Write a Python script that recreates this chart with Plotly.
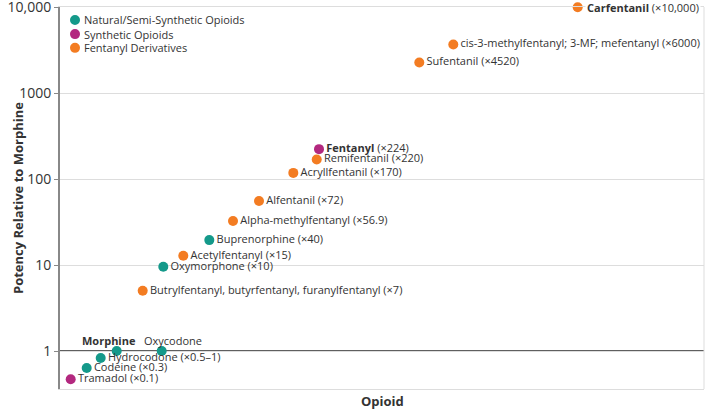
import plotly.graph_objects as go

# ---------------- data ----------------
categories = ["Natural/Semi-Synthetic Opioids", "Synthetic Opioids", "Fentanyl Derivatives"]
category_colors = ["#14998a", "#b3287f", "#f37c22"]

# Natural / semi-synthetic
nat_labels = ["Hydrocodone (×0.5–1)", "Codeine (×0.3)", "Buprenorphine (×40)", "Oxymorphone (×10)", "", ""]
nat_x = [40.7, 26.7, 149.3, 103.3, 56.7, 101.7]
nat_y = [0.83, 0.634, 19.5, 9.55, 1.0, 1.0]

# Synthetic
syn_labels = ["Tramadol (×0.1)", "<b>Fentanyl</b> (×224)"]
syn_x = [10.7, 259.0]
syn_y = [0.469, 223.0]

# Fentanyl derivatives
fen_labels = ["Butrylfentanyl, butyrfentanyl, furanylfentanyl (×7)", "Acetylfentanyl (×15)",
              "Alpha-methylfentanyl (×56.9)", "Alfentanil (×72)", "Acryllfentanil (×170)",
              "Remifentanil (×220)", "Sufentanil (×4520)",
              "cis-3-methylfentanyl; 3-MF; mefentanyl (×6000)", "<b>Carfentanil</b> (×10,000)"]
fen_x = [82.7, 123.3, 173.0, 199.0, 233.3, 256.7, 359.3, 393.3, 517.7]
fen_y = [5.02, 12.8, 32.5, 55.5, 118.0, 169.0, 2275.0, 3680.0, 10000.0]

# labels placed above points
above_labels = ["<b>Morphine</b>", "Oxycodone"]
above_x = [56.7, 101.7]
above_y = [1.0, 1.0]

y_tickvals = [1, 10, 100, 1000, 10000]
y_ticktext = ["1", "10", "100", "1000", "10,000"]
y_title = "Potency Relative to Morphine"
x_title = "Opioid"

# ---------------- figure ----------------
FONT = "Open Sans"
TXT = "#333333"
LBL = dict(family=FONT, size=11, color=TXT)

# the top-most label sits on the frame line and gets a white backing (annotation)
fen_trace_labels = fen_labels[:-1] + [""]

fig = go.Figure()
series = [(nat_x, nat_y, nat_labels), (syn_x, syn_y, syn_labels), (fen_x, fen_y, fen_trace_labels)]
for (xs, ys, labs), name, col in zip(series, categories, category_colors):
    fig.add_trace(go.Scatter(
        x=xs, y=ys, text=labs, name=name, mode="markers+text",
        textposition="middle right",
        textfont=LBL,
        marker=dict(size=10, color=col, line=dict(width=0)),
        cliponaxis=False, showlegend=False,
    ))

annotations = []
annotations.append(dict(x=fen_x[-1], y=4.0, xref="x", yref="y", text=fen_labels[-1],
                        showarrow=False, xanchor="left", yanchor="middle", xshift=7,
                        bgcolor="white", borderpad=1, font=LBL))
# Morphine / Oxycodone labels
annotations.append(dict(x=above_x[0], y=0, xref="x", yref="y", text=above_labels[0],
                        showarrow=False, xanchor="right", yanchor="middle", xshift=21, yshift=11,
                        font=LBL))
annotations.append(dict(x=above_x[1], y=0, xref="x", yref="y", text=above_labels[1],
                        showarrow=False, xanchor="left", yanchor="middle", xshift=-20, yshift=11,
                        font=LBL))

# manual legend
shapes = []
leg_y = [0.966, 0.929, 0.893]
for name, col, ly in zip(categories, category_colors, leg_y):
    shapes.append(dict(type="circle", xref="paper", yref="paper", xsizemode="pixel", ysizemode="pixel",
                       xanchor=0.0233, yanchor=ly, x0=-5, x1=5, y0=-5, y1=5,
                       fillcolor=col, line=dict(width=0)))
    annotations.append(dict(x=0.0233, y=ly, xref="paper", yref="paper", text=name, showarrow=False,
                            xanchor="left", yanchor="middle", xshift=7, font=LBL))

# axis titles
annotations.append(dict(x=0, y=0.5, xref="paper", yref="paper", text="<b>" + y_title + "</b>",
                        textangle=-90, showarrow=False, xanchor="center", yanchor="middle", xshift=-42,
                        font=dict(family=FONT, size=13, color=TXT)))
annotations.append(dict(x=0.5, y=0, xref="paper", yref="paper", text="<b>" + x_title + "</b>",
                        showarrow=False, xanchor="center", yanchor="middle", yshift=-12,
                        font=dict(family=FONT, size=13, color=TXT)))

# reference line at 1 and right border
shapes.append(dict(type="line", xref="paper", yref="y", x0=0, x1=1, y0=1, y1=1,
                   line=dict(color="#2a2a2a", width=1.5), layer="below"))
shapes.append(dict(type="line", xref="paper", yref="paper", x0=1, x1=1, y0=0, y1=1,
                   line=dict(color="#dddddd", width=1)))

fig.update_layout(
    width=708, height=412,
    margin=dict(l=60, r=4, t=7, b=23, autoexpand=False),
    paper_bgcolor="white", plot_bgcolor="white",
    showlegend=False,
    annotations=annotations, shapes=shapes,
    xaxis=dict(range=[0, 644], showticklabels=False, showgrid=False, zeroline=False,
               showline=True, linecolor="#dddddd", linewidth=1, mirror=True, ticks="",
               automargin=False),
    yaxis=dict(type="log", range=[-0.442, 4.002], tickvals=y_tickvals, ticktext=y_ticktext,
               tickfont=dict(family=FONT, size=14, color=TXT), ticklabeloverflow="allow",
               showgrid=True, gridcolor="#dddddd", gridwidth=1,
               showline=True, linecolor="#888888", linewidth=2, automargin=False,
               ticks="outside", ticklen=4, tickcolor="#888888", tickwidth=1, zeroline=False),
    font=dict(family=FONT, color=TXT),
)

fig.write_html("out.html", config={"displayModeBar": False},
               post_script="document.body.style.margin='0';")
